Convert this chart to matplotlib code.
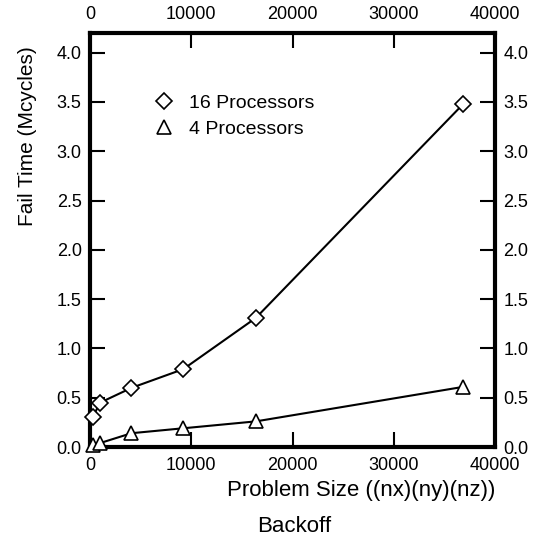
import matplotlib
matplotlib.use("Agg")
import matplotlib.pyplot as plt
from matplotlib.lines import Line2D

plt.rcParams['font.family'] = ['Liberation Sans', 'DejaVu Sans']

# Data
sizes_16 = [250, 1000, 4096, 9216, 16384, 36864]
fail_16 = [0.30, 0.45, 0.60, 0.79, 1.31, 3.48]
sizes_4 = [250, 1000, 4096, 9216, 16384, 36864]
fail_4 = [0.02, 0.04, 0.14, 0.19, 0.26, 0.61]
series_labels = ["16 Processors", "4 Processors"]
x_ticks = [0, 10000, 20000, 30000, 40000]
y_ticks = [0.0, 0.5, 1.0, 1.5, 2.0, 2.5, 3.0, 3.5, 4.0]

fig = plt.figure(figsize=(5.33, 5.54), dpi=100)
ax = fig.add_axes([90/533, 1-447/554, 405/533, 414/554])

ax.plot(sizes_16, fail_16, color='black', lw=1.5, marker='D', ms=8,
        mfc='white', mec='black', mew=1.2, clip_on=False, zorder=3)
ax.plot(sizes_4, fail_4, color='black', lw=1.5, marker='^', ms=10,
        mfc='white', mec='black', mew=1.2, clip_on=False, zorder=3)

ax.set_xlim(0, 40000)
ax.set_ylim(0, 4.2)
ax.set_xticks(x_ticks)
ax.set_yticks(y_ticks)
ax.set_xticklabels([str(v) for v in x_ticks])
ax.set_yticklabels([f"{v:.1f}" for v in y_ticks])

ax.tick_params(axis='both', which='major', direction='in', length=11, width=1.5,
               labelsize=13, top=True, right=True, labeltop=True, labelright=True,
               colors='black')
ax.tick_params(axis='y', pad=6)
ax.tick_params(axis='x', pad=7)
for s in ax.spines.values():
    s.set_linewidth(3)

ax.set_ylabel("Fail Time (Mcycles)", fontsize=15)
ax.yaxis.set_label_coords(-0.155, 0.75)
ax.yaxis.label.set_va('center')
ax.set_xlabel("Problem Size ((nx)(ny)(nz))", fontsize=16)
ax.xaxis.set_label_coords(1.0, -0.105)
ax.xaxis.label.set_ha('right')
ax.xaxis.label.set_va('center')

handles = [Line2D([], [], ls='none', marker='D', ms=8, mfc='white', mec='black', mew=1.2),
           Line2D([], [], ls='none', marker='^', ms=10, mfc='white', mec='black', mew=1.2)]
ax.legend(handles, series_labels, loc='upper left', bbox_to_anchor=(0.11, 0.895),
          frameon=False, fontsize=14, handlelength=1.2, handletextpad=0.7,
          labelspacing=0.45)

fig.text(294/533, 1-527/554, "Backoff", ha='center', va='center', fontsize=16)

fig.savefig("out.png", dpi=100)
